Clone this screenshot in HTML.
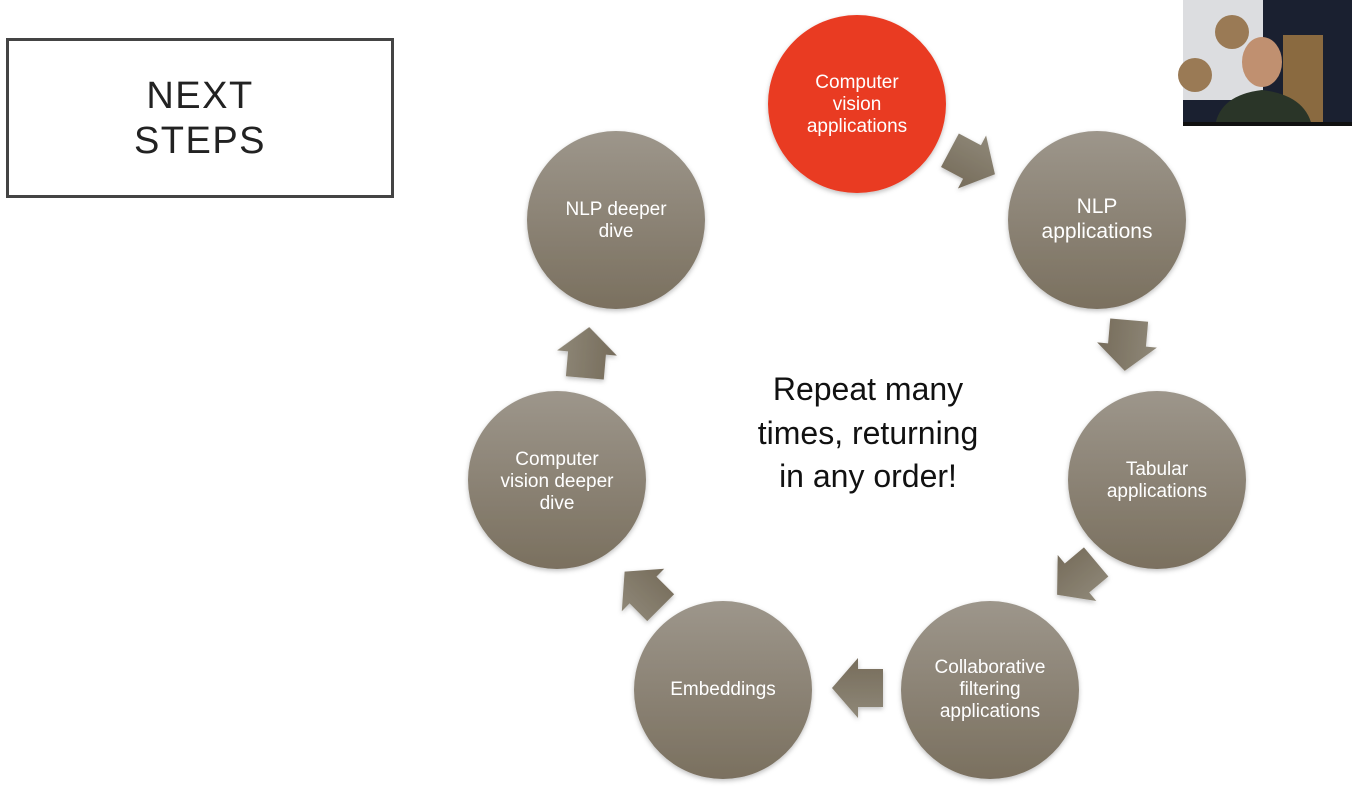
<!DOCTYPE html>
<html><head><meta charset="utf-8"><style>
html,body{margin:0;padding:0;background:#fff;}
body{width:1352px;height:796px;overflow:hidden;position:relative;font-family:"Liberation Sans",sans-serif;}
</style></head><body>
<svg width="1352" height="796" viewBox="0 0 1352 796" xmlns="http://www.w3.org/2000/svg">
<defs>
<linearGradient id="g" x1="0" y1="0" x2="0" y2="1">
<stop offset="0" stop-color="#9d968b"/><stop offset="1" stop-color="#7a705f"/>
</linearGradient>
<linearGradient id="ga" x1="0" y1="0" x2="0" y2="1">
<stop offset="0" stop-color="#8f8878"/><stop offset="1" stop-color="#766c5b"/>
</linearGradient>
<filter id="sh" x="-20%" y="-20%" width="140%" height="140%"><feDropShadow dx="0" dy="2" stdDeviation="2.5" flood-opacity="0.25"/></filter>
<polygon id="arr" points="-25,-19 0,-19 0,-30 26,0 0,30 0,19 -25,19"/>
</defs>
<rect x="7.5" y="39.5" width="385" height="157" fill="none" stroke="#444" stroke-width="3"/>
<g font-size="38" fill="#222" text-anchor="middle" letter-spacing="1.5">
<text x="200" y="108">NEXT</text><text x="200" y="153">STEPS</text>
</g>
<g filter="url(#sh)">
<circle cx="857" cy="104" r="89" fill="#e93a24"/>
<circle cx="1097" cy="220" r="89" fill="url(#g)"/>
<circle cx="1157" cy="480" r="89" fill="url(#g)"/>
<circle cx="990" cy="690" r="89" fill="url(#g)"/>
<circle cx="723" cy="690" r="89" fill="url(#g)"/>
<circle cx="557" cy="480" r="89" fill="url(#g)"/>
<circle cx="616" cy="220" r="89" fill="url(#g)"/>
</g>
<g fill="url(#ga)" filter="url(#sh)">
<use href="#arr" transform="translate(972,162) rotate(28)"/>
<use href="#arr" transform="translate(1127,345) rotate(95)"/>
<use href="#arr" transform="translate(1077,578) rotate(140)"/>
<use href="#arr" transform="translate(858,688) rotate(180)"/>
<use href="#arr" transform="translate(643,590) rotate(-135)"/>
<use href="#arr" transform="translate(587,353) rotate(-85)"/>
</g>
<g fill="#fff" text-anchor="middle" font-size="19">
<text x="857" y="88">Computer</text><text x="857" y="110">vision</text><text x="857" y="132">applications</text>
<text x="1097" y="213" font-size="21">NLP</text><text x="1097" y="238" font-size="21">applications</text>
<text x="1157" y="475">Tabular</text><text x="1157" y="497">applications</text>
<text x="990" y="673">Collaborative</text><text x="990" y="695">filtering</text><text x="990" y="717">applications</text>
<text x="723" y="695">Embeddings</text>
<text x="557" y="465">Computer</text><text x="557" y="487">vision deeper</text><text x="557" y="509">dive</text>
<text x="616" y="215">NLP deeper</text><text x="616" y="237">dive</text>
</g>
<g fill="#111" text-anchor="middle" font-size="32">
<text x="868" y="400">Repeat many</text><text x="868" y="444">times, returning</text><text x="868" y="487">in any order!</text>
</g>
<rect x="1183" y="0" width="169" height="126" fill="#1a2030"/>
<rect x="1183" y="0" width="80" height="100" fill="#dcdde0"/>
<rect x="1283" y="35" width="40" height="91" fill="#8a6a40"/>
<circle cx="1232" cy="32" r="17" fill="#9a7a55"/>
<circle cx="1195" cy="75" r="17" fill="#9a7a55"/>
<ellipse cx="1262" cy="62" rx="20" ry="25" fill="#c09070"/>
<path d="M1215 126 Q1220 95 1262 90 Q1305 95 1312 126 Z" fill="#2a3528"/>
<rect x="1183" y="122" width="169" height="4" fill="#111"/>
</svg>
</body></html>
